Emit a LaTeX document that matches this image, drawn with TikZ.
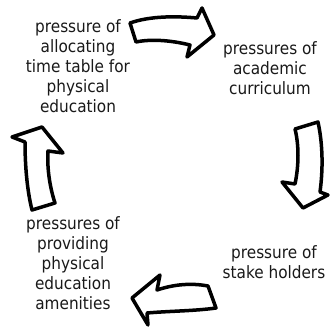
\documentclass[tikz,border=0pt]{standalone}
\usepackage{fontspec}
\setmainfont{DejaVu Sans Condensed}
\begin{document}
\begin{tikzpicture}[x=1pt,y=-1pt,
  label/.style={align=center, inner sep=0pt, text=black!90,
    font=\fontsize{17}{20}\selectfont},
  blockarrow/.style={draw=black, fill=white, line width=3.5pt, line join=round}]
\useasboundingbox (0,0) rectangle (330,328);

% the four pressures
\node[label] (alloc) at (78,66) {pressure of\\allocating\\time table for\\physical\\education};
\node[label] (acad) at (270,68) {pressures of\\academic\\curriculum};
\node[label] (stake) at (274,262) {pressure of\\stake holders};
\node[label] (amen) at (73,263) {pressures of\\providing\\physical\\education\\amenities};

% hollow curved arrows, clockwise
\path[blockarrow] (130,23) .. controls (150,16) and (175,16) .. (197,18)
  -- (202,8) -- (214,35) -- (187,57) -- (190,45)
  .. controls (170,40) and (150,39) .. (136,42) -- cycle;
\path[blockarrow] (295,129) -- (318,122)
  .. controls (323,145) and (323,170) .. (320,192)
  -- (328,195) -- (303,208) -- (282,182) -- (295,184)
  .. controls (299,165) and (299,145) .. (295,129) -- cycle;
\path[blockarrow] (208,286) -- (216,308)
  .. controls (195,311) and (170,311) .. (147,313)
  -- (148,325) -- (132,298) -- (160,275) -- (157,290)
  .. controls (175,284) and (192,283) .. (208,286) -- cycle;
\path[blockarrow] (32,210) -- (55,203)
  .. controls (49,185) and (47,165) .. (48,151)
  -- (63,153) -- (42,127) -- (12,137) -- (25,142)
  .. controls (25,165) and (27,190) .. (32,210) -- cycle;
\end{tikzpicture}
\end{document}
